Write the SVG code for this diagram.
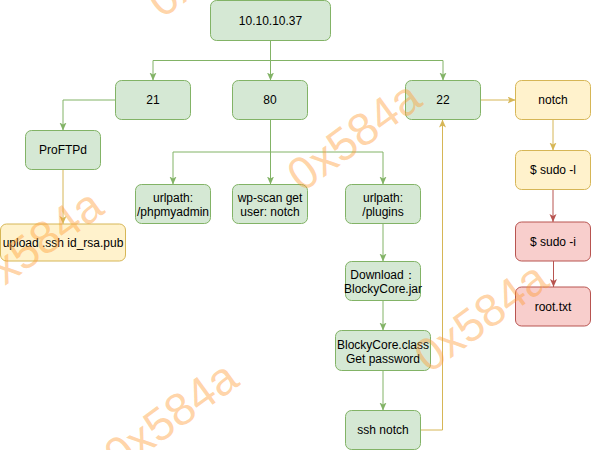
<svg xmlns="http://www.w3.org/2000/svg" width="591" height="450" viewBox="0 0 591 450">
<style>
.g rect{fill:#d5e8d4;stroke:#82b366;stroke-width:1}
.y rect{fill:#fff2cc;stroke:#d6b656;stroke-width:1}
.r rect{fill:#f8cecc;stroke:#b85450;stroke-width:1}
text{font-family:"Liberation Sans",Arial,Helvetica,sans-serif;font-size:12px;fill:#000;text-anchor:middle}
.e{fill:none;stroke-width:1}
.eg{stroke:#82b366;marker-end:url(#ag)}
.ey{stroke:#d6b656;marker-end:url(#ay)}
.er{stroke:#b85450;marker-end:url(#ar)}
.wm text{font-size:46px;fill:#ff9a2e;fill-opacity:0.42;text-anchor:start}
</style>
<defs>
<marker id="ag" markerUnits="userSpaceOnUse" markerWidth="9" markerHeight="8" refX="8" refY="3.5" orient="auto"><path d="M0,0 L8,3.5 L0,7 L2,3.5 Z" fill="#82b366"/></marker>
<marker id="ay" markerUnits="userSpaceOnUse" markerWidth="9" markerHeight="8" refX="8" refY="3.5" orient="auto"><path d="M0,0 L8,3.5 L0,7 L2,3.5 Z" fill="#d6b656"/></marker>
<marker id="ar" markerUnits="userSpaceOnUse" markerWidth="9" markerHeight="8" refX="8" refY="3.5" orient="auto"><path d="M0,0 L8,3.5 L0,7 L2,3.5 Z" fill="#b85450"/></marker>
</defs>
<rect width="591" height="450" fill="#fff"/>
<g id="connectors">
<path class="e eg" d="M270.5,40.5 V80.5"/>
<path class="e eg" d="M270.5,40.5 V60.5 H153 V80.5"/>
<path class="e eg" d="M270.5,40.5 V60.5 H443 V80.5"/>
<path class="e eg" d="M115.5,100 H63 V130.5"/>
<path class="e ey" d="M63,169.5 V224"/>
<path class="e eg" d="M270.5,119.5 V184.5"/>
<path class="e eg" d="M270.5,119.5 V152 H173 V184.5"/>
<path class="e eg" d="M270.5,119.5 V152 H383 V184.5"/>
<path class="e eg" d="M383,223.5 V261.5"/>
<path class="e eg" d="M383,300.5 V330.5"/>
<path class="e eg" d="M383,370.5 V410.5"/>
<path class="e ey" d="M420.5,430 H442.5 V119.5"/>
<path class="e ey" d="M480.5,100 H515.5"/>
<path class="e ey" d="M553,119.5 V150.5"/>
<path class="e er" d="M553,189.5 V222"/>
<path class="e er" d="M553.5,261 V287"/>
</g>
<g id="n-ip" class="g"><rect x="210.5" y="0.5" width="120" height="40" rx="6"/><text x="270.5" y="24.5">10.10.10.37</text></g>
<g id="n-21" class="g"><rect x="115.5" y="80.5" width="75" height="39" rx="6"/><text x="153" y="104">21</text></g>
<g id="n-80" class="g"><rect x="232.5" y="80.5" width="75" height="39" rx="6"/><text x="270" y="104">80</text></g>
<g id="n-22" class="g"><rect x="405.5" y="80.5" width="75" height="39" rx="6"/><text x="443" y="104">22</text></g>
<g id="n-notch" class="y"><rect x="515.5" y="80.5" width="75" height="39" rx="6"/><text x="553" y="104">notch</text></g>
<g id="n-proftpd" class="g"><rect x="25.5" y="130.5" width="75" height="39" rx="6"/><text x="63" y="154">ProFTPd</text></g>
<g id="n-upload" class="y"><rect x="0.5" y="224" width="125" height="37" rx="6"/><text x="63" y="246.5">upload .ssh id_rsa.pub</text></g>
<g id="n-phpmyadmin" class="g"><rect x="135.5" y="184.5" width="75" height="39" rx="6"/><text x="173" y="202">urlpath:</text><text x="173" y="216">/phpmyadmin</text></g>
<g id="n-wpscan" class="g"><rect x="232.5" y="184.5" width="75" height="39" rx="6"/><text x="270" y="202">wp-scan get</text><text x="270" y="216">user: notch</text></g>
<g id="n-plugins" class="g"><rect x="345.5" y="184.5" width="75" height="39" rx="6"/><text x="383" y="202">urlpath:</text><text x="383" y="216">/plugins</text></g>
<g id="n-download" class="g"><rect x="345.5" y="261.5" width="75" height="39" rx="6"/><text x="383" y="279">Download：</text><text x="383" y="293">BlockyCore.jar</text></g>
<g id="n-class" class="g"><rect x="335.5" y="330.5" width="95" height="40" rx="6"/><text x="383" y="348.5">BlockyCore.class</text><text x="383" y="362.5">Get password</text></g>
<g id="n-ssh" class="g"><rect x="345.5" y="410.5" width="75" height="39" rx="6"/><text x="383" y="434">ssh notch</text></g>
<g id="n-sudol" class="y"><rect x="515.5" y="150.5" width="75" height="39" rx="6"/><text x="553" y="174">$ sudo -l</text></g>
<g id="n-sudoi" class="r"><rect x="515.5" y="222" width="75" height="39" rx="6"/><text x="553" y="245.5">$ sudo -i</text></g>
<g id="n-root" class="r"><rect x="515.5" y="287" width="75" height="39" rx="6"/><text x="553" y="310.5">root.txt</text></g>
<g id="watermark" class="wm">
<text transform="translate(162,19) rotate(-36)">0x584a</text>
<text transform="translate(302,193) rotate(-36)">0x584a</text>
<text transform="translate(429,374) rotate(-36)">0x584a</text>
<text transform="translate(-16,301) rotate(-36)">0x584a</text>
<text transform="translate(119,473) rotate(-36)">0x584a</text>
</g>
</svg>
